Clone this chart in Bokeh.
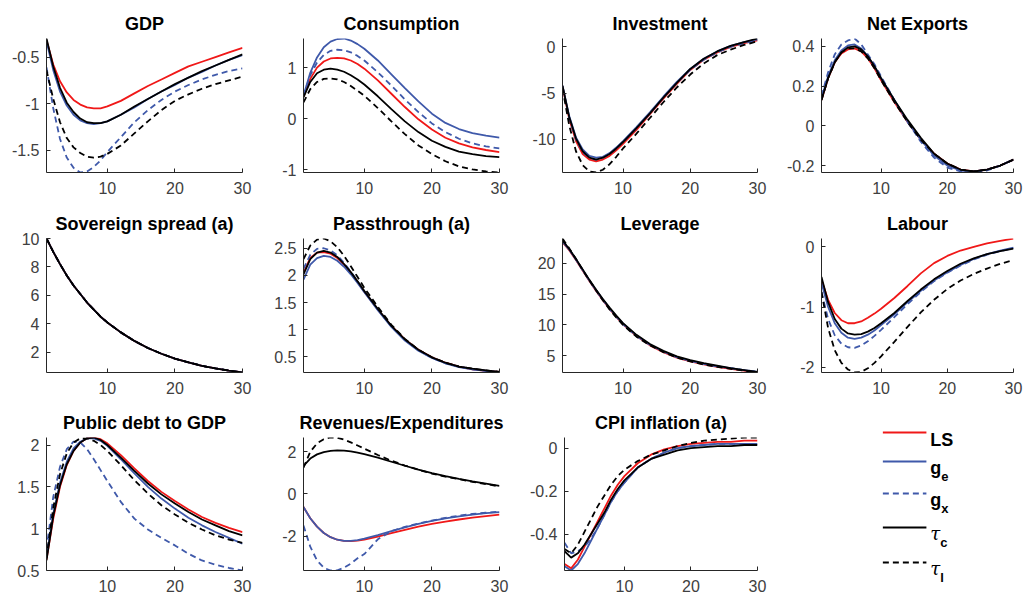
from bokeh.plotting import figure
from bokeh.layouts import column, row
from bokeh.models import Range1d, FixedTicker, CustomJSTickFormatter
from bokeh.core.properties import value
from bokeh.embed import file_html
from bokeh.resources import INLINE

# ---------------- data ----------------
periods = [1, 2, 3, 4, 5, 6, 7, 8, 9, 10, 12, 14, 16, 18, 20, 22, 24, 26, 28, 30]
series_labels = ["LS", "g_e", "g_x", "tau_c", "tau_l"]
x_ticks = [10, 20, 30]

gdp_ls = [-0.32, -0.58, -0.76, -0.88, -0.96, -1.01, -1.04, -1.05, -1.05, -1.03, -0.97, -0.89, -0.81, -0.74, -0.67, -0.60, -0.55, -0.50, -0.45, -0.40]
gdp_ge = [-0.33, -0.64, -0.87, -1.02, -1.12, -1.18, -1.21, -1.22, -1.21, -1.19, -1.12, -1.04, -0.95, -0.87, -0.80, -0.72, -0.66, -0.59, -0.53, -0.48]
gdp_gx = [-0.61, -1.05, -1.38, -1.58, -1.69, -1.74, -1.73, -1.68, -1.61, -1.52, -1.36, -1.20, -1.07, -0.96, -0.87, -0.80, -0.74, -0.69, -0.65, -0.62]
gdp_tc = [-0.30, -0.60, -0.83, -0.99, -1.09, -1.16, -1.20, -1.21, -1.21, -1.19, -1.12, -1.03, -0.95, -0.87, -0.79, -0.72, -0.65, -0.59, -0.53, -0.47]
gdp_tl = [-0.64, -0.95, -1.20, -1.37, -1.47, -1.53, -1.57, -1.58, -1.57, -1.54, -1.45, -1.32, -1.19, -1.07, -0.97, -0.90, -0.84, -0.79, -0.75, -0.71]
gdp_yticks = [-1.5, -1, -0.5]

cons_ls = [0.43, 0.78, 1.00, 1.12, 1.18, 1.19, 1.18, 1.14, 1.07, 0.98, 0.75, 0.49, 0.23, -0.01, -0.21, -0.37, -0.48, -0.56, -0.61, -0.65]
cons_ge = [0.45, 0.90, 1.20, 1.40, 1.51, 1.56, 1.57, 1.53, 1.46, 1.37, 1.14, 0.87, 0.60, 0.34, 0.10, -0.08, -0.20, -0.28, -0.33, -0.37]
cons_gx = [0.45, 0.85, 1.10, 1.25, 1.33, 1.35, 1.34, 1.30, 1.23, 1.14, 0.91, 0.65, 0.38, 0.13, -0.09, -0.26, -0.39, -0.48, -0.54, -0.58]
cons_tc = [0.42, 0.72, 0.89, 0.96, 0.98, 0.96, 0.92, 0.85, 0.77, 0.67, 0.44, 0.19, -0.05, -0.26, -0.43, -0.55, -0.64, -0.69, -0.73, -0.75]
cons_tl = [0.32, 0.58, 0.72, 0.78, 0.79, 0.77, 0.72, 0.64, 0.55, 0.45, 0.21, -0.05, -0.30, -0.52, -0.69, -0.83, -0.93, -0.99, -1.03, -1.05]
cons_yticks = [-1, 0, 1]

inv_ls = [-4.3, -7.8, -10.2, -11.6, -12.2, -12.4, -12.2, -11.8, -11.2, -10.5, -9.0, -7.3, -5.6, -4.0, -2.5, -1.4, -0.6, 0.0, 0.4, 0.7]
inv_ge = [-4.2, -7.5, -9.8, -11.1, -11.8, -12.0, -11.9, -11.5, -10.9, -10.2, -8.7, -7.1, -5.4, -3.8, -2.4, -1.3, -0.5, 0.1, 0.5, 0.8]
inv_gx = [-4.3, -7.7, -10.0, -11.4, -12.0, -12.2, -12.0, -11.6, -11.0, -10.3, -8.8, -7.2, -5.5, -3.9, -2.5, -1.4, -0.6, 0.0, 0.4, 0.7]
inv_tc = [-4.2, -7.6, -9.9, -11.3, -12.0, -12.2, -12.0, -11.6, -11.0, -10.3, -8.8, -7.2, -5.5, -3.9, -2.4, -1.3, -0.5, 0.1, 0.5, 0.9]
inv_tl = [-4.5, -8.5, -11.3, -12.8, -13.5, -13.6, -13.3, -12.7, -11.9, -11.0, -9.4, -7.7, -6.0, -4.4, -3.0, -1.8, -0.9, -0.3, 0.2, 0.6]
inv_yticks = [-10, -5, 0]

nx_ls = [0.13, 0.24, 0.32, 0.365, 0.385, 0.39, 0.375, 0.34, 0.29, 0.23, 0.12, 0.02, -0.07, -0.14, -0.19, -0.22, -0.23, -0.22, -0.20, -0.17]
nx_ge = [0.14, 0.25, 0.33, 0.38, 0.405, 0.41, 0.39, 0.35, 0.30, 0.24, 0.13, 0.02, -0.07, -0.15, -0.20, -0.225, -0.23, -0.22, -0.20, -0.17]
nx_gx = [0.15, 0.27, 0.36, 0.41, 0.43, 0.44, 0.41, 0.36, 0.31, 0.25, 0.13, 0.02, -0.08, -0.16, -0.21, -0.23, -0.235, -0.225, -0.20, -0.17]
nx_tc = [0.13, 0.24, 0.32, 0.37, 0.395, 0.40, 0.385, 0.35, 0.30, 0.24, 0.13, 0.03, -0.06, -0.14, -0.19, -0.22, -0.23, -0.22, -0.20, -0.17]
nx_tl = [0.13, 0.24, 0.32, 0.37, 0.39, 0.39, 0.375, 0.34, 0.29, 0.23, 0.12, 0.02, -0.07, -0.14, -0.19, -0.22, -0.23, -0.22, -0.20, -0.17]
nx_yticks = [-0.2, 0, 0.2, 0.4]

spread_all = [10.0, 9.06, 8.2, 7.4, 6.7, 6.1, 5.5, 5.0, 4.5, 4.1, 3.4, 2.8, 2.3, 1.9, 1.55, 1.3, 1.05, 0.87, 0.71, 0.58]
spread_yticks = [2, 4, 6, 8, 10]

pt_ls = [2.05, 2.32, 2.42, 2.43, 2.40, 2.32, 2.20, 2.05, 1.88, 1.70, 1.37, 1.07, 0.82, 0.63, 0.49, 0.39, 0.32, 0.27, 0.24, 0.22]
pt_ge = [1.92, 2.20, 2.32, 2.36, 2.34, 2.27, 2.16, 2.02, 1.86, 1.69, 1.36, 1.05, 0.80, 0.61, 0.48, 0.38, 0.31, 0.27, 0.24, 0.21]
pt_gx = [2.12, 2.38, 2.49, 2.50, 2.46, 2.37, 2.23, 2.07, 1.89, 1.71, 1.37, 1.06, 0.81, 0.62, 0.48, 0.38, 0.32, 0.27, 0.24, 0.22]
pt_tc = [2.02, 2.30, 2.42, 2.45, 2.42, 2.34, 2.21, 2.06, 1.89, 1.71, 1.38, 1.07, 0.82, 0.63, 0.49, 0.39, 0.32, 0.28, 0.25, 0.22]
pt_tl = [2.30, 2.55, 2.66, 2.68, 2.63, 2.52, 2.36, 2.17, 1.97, 1.77, 1.42, 1.09, 0.83, 0.63, 0.49, 0.39, 0.32, 0.28, 0.25, 0.22]
pt_yticks = [0.5, 1, 1.5, 2, 2.5]

lev_ls = [23.4, 22.1, 20.5, 18.8, 17.1, 15.5, 14.0, 12.6, 11.3, 10.1, 8.2, 6.7, 5.6, 4.7, 4.1, 3.6, 3.2, 2.9, 2.6, 2.3]
lev_ge = [23.5, 22.2, 20.6, 18.9, 17.2, 15.6, 14.1, 12.7, 11.4, 10.2, 8.3, 6.8, 5.7, 4.8, 4.2, 3.7, 3.3, 3.0, 2.7, 2.4]
lev_gx = [23.6, 22.3, 20.6, 18.9, 17.2, 15.6, 14.1, 12.6, 11.3, 10.1, 8.2, 6.8, 5.7, 4.8, 4.2, 3.7, 3.3, 3.0, 2.7, 2.4]
lev_tc = [23.7, 22.3, 20.7, 19.0, 17.3, 15.7, 14.2, 12.8, 11.5, 10.3, 8.4, 6.9, 5.8, 4.9, 4.3, 3.8, 3.4, 3.0, 2.7, 2.4]
lev_tl = [24.0, 22.4, 20.7, 18.9, 17.2, 15.6, 14.0, 12.5, 11.2, 10.0, 8.1, 6.7, 5.6, 4.7, 4.1, 3.6, 3.2, 2.9, 2.6, 2.3]
lev_yticks = [5, 10, 15, 20]

lab_ls = [-0.55, -0.88, -1.10, -1.22, -1.27, -1.27, -1.24, -1.18, -1.11, -1.03, -0.85, -0.65, -0.44, -0.27, -0.15, -0.06, 0.00, 0.06, 0.10, 0.14]
lab_ge = [-0.60, -1.00, -1.27, -1.43, -1.51, -1.53, -1.51, -1.46, -1.39, -1.30, -1.12, -0.92, -0.73, -0.56, -0.42, -0.30, -0.20, -0.12, -0.06, -0.01]
lab_gx = [-0.75, -1.20, -1.47, -1.61, -1.67, -1.68, -1.64, -1.57, -1.48, -1.38, -1.17, -0.95, -0.75, -0.57, -0.43, -0.31, -0.21, -0.13, -0.07, -0.02]
lab_tc = [-0.50, -0.92, -1.20, -1.36, -1.44, -1.46, -1.45, -1.41, -1.35, -1.27, -1.10, -0.90, -0.71, -0.54, -0.40, -0.28, -0.19, -0.12, -0.07, -0.03]
lab_tl = [-0.75, -1.35, -1.72, -1.93, -2.04, -2.09, -2.08, -2.02, -1.93, -1.82, -1.58, -1.33, -1.09, -0.88, -0.70, -0.56, -0.45, -0.36, -0.28, -0.22]
lab_yticks = [-2, -1, 0]

debt_ls = [0.63, 1.12, 1.50, 1.76, 1.93, 2.03, 2.08, 2.09, 2.07, 2.02, 1.88, 1.72, 1.57, 1.44, 1.33, 1.23, 1.14, 1.07, 1.01, 0.96]
debt_ge = [0.66, 1.18, 1.55, 1.80, 1.96, 2.04, 2.08, 2.08, 2.05, 1.99, 1.83, 1.66, 1.50, 1.36, 1.24, 1.13, 1.04, 0.96, 0.89, 0.82]
debt_gx = [0.75, 1.38, 1.74, 1.95, 2.04, 2.03, 1.95, 1.83, 1.70, 1.57, 1.32, 1.12, 0.99, 0.89, 0.80, 0.70, 0.62, 0.57, 0.53, 0.50]
debt_tc = [0.62, 1.15, 1.52, 1.77, 1.93, 2.03, 2.08, 2.09, 2.06, 2.00, 1.85, 1.69, 1.54, 1.41, 1.30, 1.20, 1.11, 1.04, 0.97, 0.92]
debt_tl = [0.65, 1.25, 1.65, 1.90, 2.03, 2.08, 2.08, 2.05, 2.00, 1.93, 1.76, 1.58, 1.42, 1.28, 1.17, 1.07, 0.99, 0.92, 0.87, 0.83]
debt_yticks = [0.5, 1, 1.5, 2]

rev_ls = [-0.62, -1.15, -1.55, -1.85, -2.05, -2.17, -2.22, -2.23, -2.21, -2.16, -2.02, -1.86, -1.70, -1.55, -1.42, -1.31, -1.21, -1.12, -1.05, -0.98]
rev_ge = [-0.62, -1.15, -1.55, -1.85, -2.05, -2.17, -2.22, -2.22, -2.19, -2.12, -1.95, -1.76, -1.58, -1.42, -1.28, -1.16, -1.06, -0.98, -0.91, -0.86]
rev_gx = [-1.50, -2.50, -3.15, -3.50, -3.63, -3.62, -3.50, -3.30, -3.05, -2.85, -2.15, -1.76, -1.56, -1.40, -1.26, -1.13, -1.03, -0.95, -0.89, -0.84]
rev_tc = [1.33, 1.68, 1.88, 1.99, 2.05, 2.07, 2.06, 2.02, 1.96, 1.89, 1.72, 1.53, 1.34, 1.16, 0.99, 0.85, 0.72, 0.60, 0.49, 0.38]
rev_tl = [1.25, 2.00, 2.40, 2.60, 2.68, 2.67, 2.58, 2.45, 2.30, 2.15, 1.85, 1.58, 1.35, 1.15, 0.97, 0.82, 0.70, 0.58, 0.47, 0.36]
rev_yticks = [-2, 0, 2]

cpi_ls = [-0.54, -0.56, -0.52, -0.46, -0.40, -0.34, -0.28, -0.22, -0.17, -0.13, -0.07, -0.03, -0.005, 0.01, 0.02, 0.025, 0.03, 0.03, 0.035, 0.035]
cpi_ge = [-0.55, -0.57, -0.54, -0.49, -0.43, -0.37, -0.31, -0.25, -0.20, -0.16, -0.09, -0.05, -0.02, 0.0, 0.01, 0.015, 0.02, 0.02, 0.02, 0.02]
cpi_gx = [-0.44, -0.49, -0.48, -0.46, -0.42, -0.37, -0.31, -0.25, -0.20, -0.16, -0.09, -0.05, -0.02, 0.0, 0.01, 0.015, 0.02, 0.02, 0.02, 0.02]
cpi_tc = [-0.48, -0.51, -0.49, -0.45, -0.40, -0.35, -0.30, -0.24, -0.19, -0.15, -0.09, -0.05, -0.03, -0.01, 0.0, 0.005, 0.01, 0.01, 0.015, 0.015]
cpi_tl = [-0.47, -0.49, -0.45, -0.39, -0.33, -0.27, -0.22, -0.17, -0.13, -0.10, -0.06, -0.03, -0.01, 0.01, 0.025, 0.035, 0.04, 0.045, 0.05, 0.05]
cpi_yticks = [-0.4, -0.2, 0]

# ---------------- style ----------------
COLORS = ["#f01818", "#3f59aa", "#3f59aa", "#000000", "#000000"]
DASHES = ["solid", "solid", "6 4", "solid", "6 4"]
LW = 1.8
FONT = "Liberation Sans"
AX = "#262626"
TXT = "#404040"

col_w = [269, 257, 257, 241]
col_bl = [46, 34, 36, 36]
col_br = [27, 27, 26, 11]
row_h = [202, 199, 196]
row_bt = [38, 36, 36]
row_bb = [30, 29, 27]


def panel(title, series, yticks, r, c):
    lo = min(min(s) for s in series)
    hi = max(max(s) for s in series)
    p = figure(width=col_w[c], height=row_h[r], title=title,
               x_range=Range1d(1, 30), y_range=Range1d(lo, hi),
               output_backend="svg", toolbar_location=None,
               min_border_left=col_bl[c], min_border_right=col_br[c],
               min_border_top=row_bt[r], min_border_bottom=row_bb[r])
    p.title.text_font = FONT
    p.title.text_font_size = "18px"
    p.title.text_font_style = "bold"
    p.title.align = "center"
    p.title.text_color = "#000000"
    p.title.standoff = 9
    p.title.offset = 0
    p.outline_line_color = None
    p.grid.visible = False
    p.xaxis.ticker = FixedTicker(ticks=x_ticks)
    p.yaxis.ticker = FixedTicker(ticks=yticks)
    fmt = "return tick.toString();"
    p.xaxis.formatter = CustomJSTickFormatter(code=fmt)
    p.yaxis.formatter = CustomJSTickFormatter(code=fmt)
    for ax in (p.xaxis[0], p.yaxis[0]):
        ax.axis_line_color = AX
        ax.axis_line_width = 1
        ax.major_tick_in = 4
        ax.major_tick_out = 0
        ax.major_tick_line_color = AX
        ax.minor_tick_line_color = None
        ax.major_label_text_font = FONT
        ax.major_label_text_font_size = "16px"
        ax.major_label_text_color = TXT
    p.xaxis.major_label_standoff = 9
    p.yaxis.major_label_standoff = 7
    for s, col, dash in zip(series, COLORS, DASHES):
        p.line(periods, s, line_color=col, line_dash=dash, line_width=LW)
    return p


panels = [
    ("GDP", [gdp_ls, gdp_ge, gdp_gx, gdp_tc, gdp_tl], gdp_yticks),
    ("Consumption", [cons_ls, cons_ge, cons_gx, cons_tc, cons_tl], cons_yticks),
    ("Investment", [inv_ls, inv_ge, inv_gx, inv_tc, inv_tl], inv_yticks),
    ("Net Exports", [nx_ls, nx_ge, nx_gx, nx_tc, nx_tl], nx_yticks),
    ("Sovereign spread (a)", [spread_all] * 5, spread_yticks),
    ("Passthrough (a)", [pt_ls, pt_ge, pt_gx, pt_tc, pt_tl], pt_yticks),
    ("Leverage", [lev_ls, lev_ge, lev_gx, lev_tc, lev_tl], lev_yticks),
    ("Labour", [lab_ls, lab_ge, lab_gx, lab_tc, lab_tl], lab_yticks),
    ("Public debt to GDP", [debt_ls, debt_ge, debt_gx, debt_tc, debt_tl], debt_yticks),
    ("Revenues/Expenditures", [rev_ls, rev_ge, rev_gx, rev_tc, rev_tl], rev_yticks),
    ("CPI inflation (a)", [cpi_ls, cpi_ge, cpi_gx, cpi_tc, cpi_tl], cpi_yticks),
]

figs = []
for i, (t, s, yt) in enumerate(panels):
    figs.append(panel(t, s, yt, i // 4, i % 4))

# ---------------- legend cell ----------------
# frame is aligned with the column above (left 36, right 11), so map pixels 1:1
lw_, lh_ = col_w[3], row_h[2]
leg = figure(width=lw_, height=lh_,
             x_range=Range1d(col_bl[3], lw_ - col_br[3]), y_range=Range1d(lh_, 0),
             x_axis_type=None, y_axis_type=None, output_backend="svg",
             toolbar_location=None, min_border_left=col_bl[3], min_border_right=col_br[3],
             min_border_top=0, min_border_bottom=0)
leg.outline_line_color = None
leg.grid.visible = False
rows_y = [31, 60, 92, 126, 161]
for yy, col, dash in zip(rows_y, COLORS, DASHES):
    leg.line([98, 142], [yy, yy], line_color=col, line_dash=dash, line_width=LW)

main_txt = ["LS", "g", "g", "\u03c4", "\u03c4"]
sub_txt = ["", "e", "x", "c", "l"]
for i, yy in enumerate(rows_y):
    if i >= 3:
        leg.text([146], [yy + 6], text=[main_txt[i]], text_font=value("DejaVu Serif"),
                 text_font_size="18px", text_font_style="italic", text_color="#000000",
                 text_baseline="alphabetic")
        sx = 156
    else:
        leg.text([146], [yy + 7 if i == 0 else yy + 6], text=[main_txt[i]], text_font=value(FONT),
                 text_font_size="18px", text_font_style="bold", text_color="#000000",
                 text_baseline="alphabetic")
        sx = 157
    if sub_txt[i]:
        leg.text([sx], [yy + 15], text=[sub_txt[i]], text_font=value(FONT),
                 text_font_size="13px", text_font_style="bold", text_color="#000000",
                 text_baseline="alphabetic")

left_block = column(row(figs[0], figs[1], figs[2]),
                    row(figs[4], figs[5], figs[6]),
                    row(figs[8], figs[9], figs[10]))
right_block = column(figs[3], figs[7], leg)
layout = row(left_block, right_block)

open("out.html", "w").write(file_html(layout, INLINE))
